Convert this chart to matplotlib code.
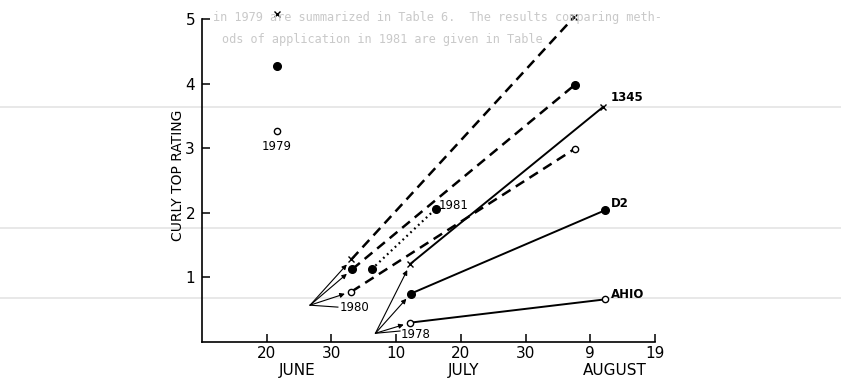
import matplotlib
matplotlib.use('Agg')
import matplotlib.pyplot as plt
import matplotlib.transforms as mtransforms

# x positions are days counted from 1 June (June 30 = 30, July 10 = 40, Aug 9 = 70)
xticks = [20, 30, 40, 50, 60, 70, 80]
xtick_labels = ['20', '30', '10', '20', '30', '9', '19']
yticks = [1, 2, 3, 4, 5]
months = ['JUNE', 'JULY', 'AUGUST']
month_x = [24.7, 50.4, 73.8]

# 1979: single planting, three varieties
x_1979 = 21.6
y_1979 = {'x': 5.08, 'dot': 4.28, 'open': 3.27}

# 1980 planting (dashed lines) - start and end of each variety
origin_1980 = (26.7, 0.57)
start_1980_x = [33.1, 33.2, 33.1]
start_1980_y = [1.28, 1.125, 0.78]
end_1980_x = [67.5, 67.6, 67.6]
end_1980_y = [5.03, 3.98, 2.99]

# 1981 (dotted)
x_1981 = [36.2, 46.1]
y_1981 = [1.125, 2.06]

# 1978 planting (solid lines)
origin_1978 = (36.8, 0.135)
start_1978_x = [42.2, 42.3, 42.2]
start_1978_y = [1.21, 0.75, 0.30]
end_1978_x = [72.0, 72.3, 72.3]
end_1978_y = [3.64, 2.04, 0.66]
varieties = ['1345', 'D2', 'AHIO']

markers = ['x', 'o', 'o']
faces = ['black', 'black', 'white']
sizes = [4, 5.5, 4.5]

fig = plt.figure(figsize=(8.41, 3.78), dpi=100)
ax = fig.add_axes([202/841, 1-342/378, (655-202)/841, (342-19)/378])
ax.patch.set_alpha(0)

# faint show-through from the scanned page
ghost = '#c9c9c9'
fig.text(213/841, 1-18/378, 'in 1979 are summarized in Table 6.  The results comparing meth-',
         family='DejaVu Sans Mono', fontsize=8.6, color=ghost, va='center', zorder=0)
fig.text(222/841, 1-39/378, 'ods of application in 1981 are given in Table',
         family='DejaVu Sans Mono', fontsize=8.6, color=ghost, va='center', zorder=0)
for yy in [107, 228, 298]:
    fig.add_artist(plt.Line2D([0, 1], [1-yy/378]*2, color='#e4e4e4', lw=1.2, zorder=0))

def mark(x, y, i):
    ax.plot(x, y, linestyle='none', marker=markers[i], ms=sizes[i], mfc=faces[i],
            mec='black', mew=1.0, clip_on=False, zorder=4)

def arrow(p, o):
    ax.annotate('', xy=p, xytext=o,
                arrowprops=dict(arrowstyle='-|>', lw=0.8, color='black',
                                mutation_scale=7, shrinkA=0, shrinkB=5))

# 1979
for i, k in enumerate(['x', 'dot', 'open']):
    mark(x_1979, y_1979[k], i)
ax.text(x_1979, 3.03, '1979', ha='center', va='center', fontsize=8.5)

# 1980 dashed lines
for i in range(3):
    ax.plot([start_1980_x[i], end_1980_x[i]], [start_1980_y[i], end_1980_y[i]],
            color='black', lw=1.8, dashes=(4, 2.5), clip_on=False)
    mark(start_1980_x[i], start_1980_y[i], i)
    mark(end_1980_x[i], end_1980_y[i], i)
    arrow((start_1980_x[i], start_1980_y[i]), origin_1980)
ax.plot([origin_1980[0], 31.0], [origin_1980[1], 0.54], color='black', lw=0.8)
ax.text(31.2, 0.54, '1980', ha='left', va='center', fontsize=8.5)

# 1981 dotted line
ax.plot(x_1981, y_1981, color='black', lw=1.6, linestyle=(0, (0.8, 1.6)))
ax.plot(x_1981, y_1981, linestyle='none', marker='o', ms=5.5, color='black', zorder=4)
ax.text(46.5, 2.12, '1981', ha='left', va='center', fontsize=8.5)

# 1978 solid lines
label_y = [3.79, 2.15, 0.73]
for i in range(3):
    ax.plot([start_1978_x[i], end_1978_x[i]], [start_1978_y[i], end_1978_y[i]],
            color='black', lw=1.4)
    mark(start_1978_x[i], start_1978_y[i], i)
    mark(end_1978_x[i], end_1978_y[i], i)
    arrow((start_1978_x[i], start_1978_y[i]), origin_1978)
    ax.text(73.2, label_y[i], varieties[i], ha='left', va='center', fontsize=8.5,
            fontweight='bold')
ax.plot([origin_1978[0], 40.6], [origin_1978[1], 0.17], color='black', lw=0.8)
ax.text(40.7, 0.11, '1978', ha='left', va='center', fontsize=8.5)

ax.set_xlim(10, 80)
ax.set_ylim(0, 5)
ax.set_xticks(xticks)
ax.set_xticklabels(xtick_labels)
ax.set_yticks(yticks)
ax.tick_params(direction='in', length=6, width=1.1, labelsize=11, colors='black')
ax.tick_params(axis='x', pad=3)
ax.tick_params(axis='y', pad=5)
for s in ['top', 'right']:
    ax.spines[s].set_visible(False)
for s in ['left', 'bottom']:
    ax.spines[s].set_linewidth(1.2)

trans = mtransforms.blended_transform_factory(ax.transData, ax.transAxes)
for m, mx in zip(months, month_x):
    ax.text(mx, -0.087, m, transform=trans, ha='center', va='center', fontsize=11)

fig.text(178/841, 1-175/378, 'CURLY TOP RATING', rotation=90, ha='center',
         va='center', fontsize=10)

plt.savefig('out.png', dpi=100)
